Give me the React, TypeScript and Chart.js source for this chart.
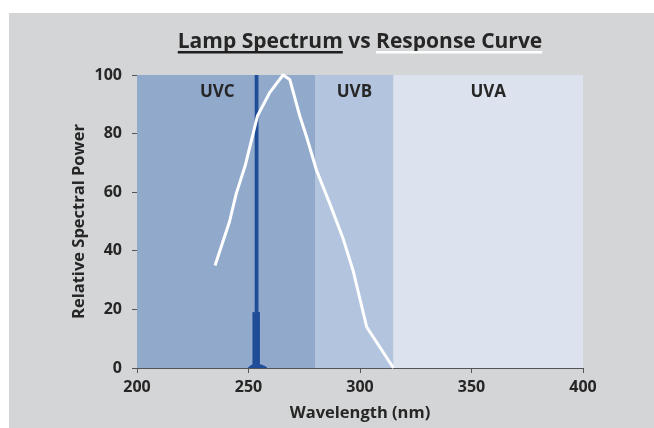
import React, { useEffect, useRef } from "react";
import { Chart, registerables } from "chart.js";

Chart.register(...registerables);

// Response curve (white line)
const responseX = [235, 241.5, 244.5, 248.5, 254, 259.5, 265.5, 268.5, 273, 276, 280.5, 286.5, 292.5, 297, 303, 315];
const responseY = [35, 50, 59.5, 69, 86, 94, 100, 98.5, 86, 79, 67.5, 56, 44, 33, 14, 0];

// Lamp spectrum (narrow mercury line near 254 nm)
const lampX = [249.6, 250.6, 251.4, 251.9, 251.9, 252.9, 252.9, 254.2, 254.2, 254.9, 254.9, 256.0, 257.4, 258.4];
const lampY = [0, 0.6, 1.0, 1.3, 19, 19, 100, 100, 19, 19, 1.3, 1.0, 0.6, 0];

// UV bands
const bandLabels = ["UVC", "UVB", "UVA"];
const bandStart = [200, 280, 315];
const bandEnd = [280, 315, 400];
const bandLabelX = [236, 297.5, 357.5];

// Axes
const xTicks = [200, 250, 300, 350, 400];
const yTicks = [0, 20, 40, 60, 80, 100];

const FONT = "'Open Sans', 'Noto Sans', sans-serif";
const TEXT = "#262626";
const bandColors = ["#91aacb", "#b3c5de", "#dce2ee"];

const bgPlugin = {
  id: "bg",
  beforeDraw(chart: any) {
    const { ctx, width, height } = chart;
    ctx.save();
    ctx.fillStyle = "#ffffff";
    ctx.fillRect(0, 0, width, height);
    ctx.fillStyle = "#d4d5d6";
    ctx.fillRect(9, 13, width - 9, height - 13);
    ctx.restore();
  },
};

const bandsPlugin = {
  id: "bands",
  beforeDatasetsDraw(chart: any) {
    const { ctx, chartArea, scales } = chart;
    const xs = scales.x;
    ctx.save();
    bandLabels.forEach((lab, i) => {
      const x0 = xs.getPixelForValue(bandStart[i]);
      const x1 = xs.getPixelForValue(bandEnd[i]);
      ctx.fillStyle = bandColors[i];
      ctx.fillRect(x0, chartArea.top, x1 - x0, chartArea.bottom - chartArea.top);
    });
    ctx.fillStyle = TEXT;
    ctx.font = `bold 17px ${FONT}`;
    ctx.textAlign = "center";
    ctx.textBaseline = "middle";
    bandLabels.forEach((lab, i) => {
      ctx.fillText(lab, xs.getPixelForValue(bandLabelX[i]), chartArea.top + 17);
    });
    ctx.restore();
  },
};

const textPlugin = {
  id: "texts",
  afterDraw(chart: any) {
    const { ctx, chartArea } = chart;
    const cx = (chartArea.left + chartArea.right) / 2;
    ctx.save();
    // title
    ctx.font = `bold 21px ${FONT}`;
    ctx.textBaseline = "alphabetic";
    ctx.textAlign = "left";
    const parts = ["Lamp Spectrum", " vs ", "Response Curve"];
    const widths = parts.map((p) => ctx.measureText(p).width);
    const total = widths.reduce((a, b) => a + b, 0);
    let x = cx - total / 2;
    const baseY = 48;
    parts.forEach((p, i) => {
      ctx.fillStyle = TEXT;
      ctx.fillText(p, x, baseY);
      if (i !== 1) {
        ctx.fillStyle = i === 0 ? "#1e1e1e" : "#ffffff";
        ctx.fillRect(x, baseY + 3, widths[i], 2.5);
      }
      x += widths[i];
    });
    // axis titles
    ctx.fillStyle = TEXT;
    ctx.font = `bold 16.5px ${FONT}`;
    ctx.textAlign = "center";
    ctx.textBaseline = "middle";
    ctx.fillText("Wavelength (nm)", cx, 413);
    ctx.translate(79, (chartArea.top + chartArea.bottom) / 2);
    ctx.rotate(-Math.PI / 2);
    ctx.fillText("Relative Spectral Power", 0, 0);
    ctx.restore();
  },
};

export default function App() {
  const ref = useRef<HTMLCanvasElement>(null);
  useEffect(() => {
    const prevMargin = document.body.style.margin;
    document.body.style.margin = "0";
    const chart = new Chart(ref.current as HTMLCanvasElement, {
      type: "line",
      data: {
        datasets: [
          {
            label: "Response Curve",
            data: responseX.map((x, i) => ({ x, y: responseY[i] })),
            borderColor: "#ffffff",
            borderWidth: 3,
            pointRadius: 0,
            tension: 0,
            borderJoinStyle: "round",
            fill: false,
            clip: false as any,
            order: 1,
          },
          {
            label: "Lamp Spectrum",
            data: lampX.map((x, i) => ({ x, y: lampY[i] })),
            borderColor: "#1f4d98",
            backgroundColor: "#1f4d98",
            borderWidth: 0.5,
            pointRadius: 0,
            tension: 0,
            fill: "origin",
            order: 2,
          },
        ],
      },
      options: {
        animation: false,
        responsive: false,
        maintainAspectRatio: false,
        layout: { padding: { left: 0, top: 75, right: 71, bottom: 0 } },
        plugins: { legend: { display: false }, tooltip: { enabled: false }, title: { display: false } },
        scales: {
          x: {
            type: "linear",
            min: xTicks[0],
            max: xTicks[xTicks.length - 1],
            afterBuildTicks: (s: any) => {
              s.ticks = xTicks.map((v) => ({ value: v }));
            },
            afterFit: (s: any) => {
              s.height = 60;
            },
            grid: { drawOnChartArea: false, drawTicks: true, tickLength: 5, color: "#555" },
            border: { display: true, color: "#555", width: 1 },
            ticks: { color: TEXT, font: { family: FONT, size: 16, weight: "bold" }, padding: 5, maxRotation: 0 },
          },
          y: {
            type: "linear",
            min: yTicks[0],
            max: yTicks[yTicks.length - 1],
            afterBuildTicks: (s: any) => {
              s.ticks = yTicks.map((v) => ({ value: v }));
            },
            afterFit: (s: any) => {
              s.width = 137;
            },
            grid: { drawOnChartArea: false, drawTicks: true, tickLength: 5, color: "#555" },
            border: { display: true, color: "#555", width: 1 },
            ticks: { color: TEXT, font: { family: FONT, size: 16, weight: "bold" }, padding: 10 },
          },
        },
      } as any,
      plugins: [bgPlugin, bandsPlugin, textPlugin],
    });
    return () => {
      chart.destroy();
      document.body.style.margin = prevMargin;
    };
  }, []);
  return (
    <div style={{ width: 654, height: 428 }}>
      <canvas ref={ref} width={654} height={428} style={{ display: "block", width: 654, height: 428 }} />
    </div>
  );
}
